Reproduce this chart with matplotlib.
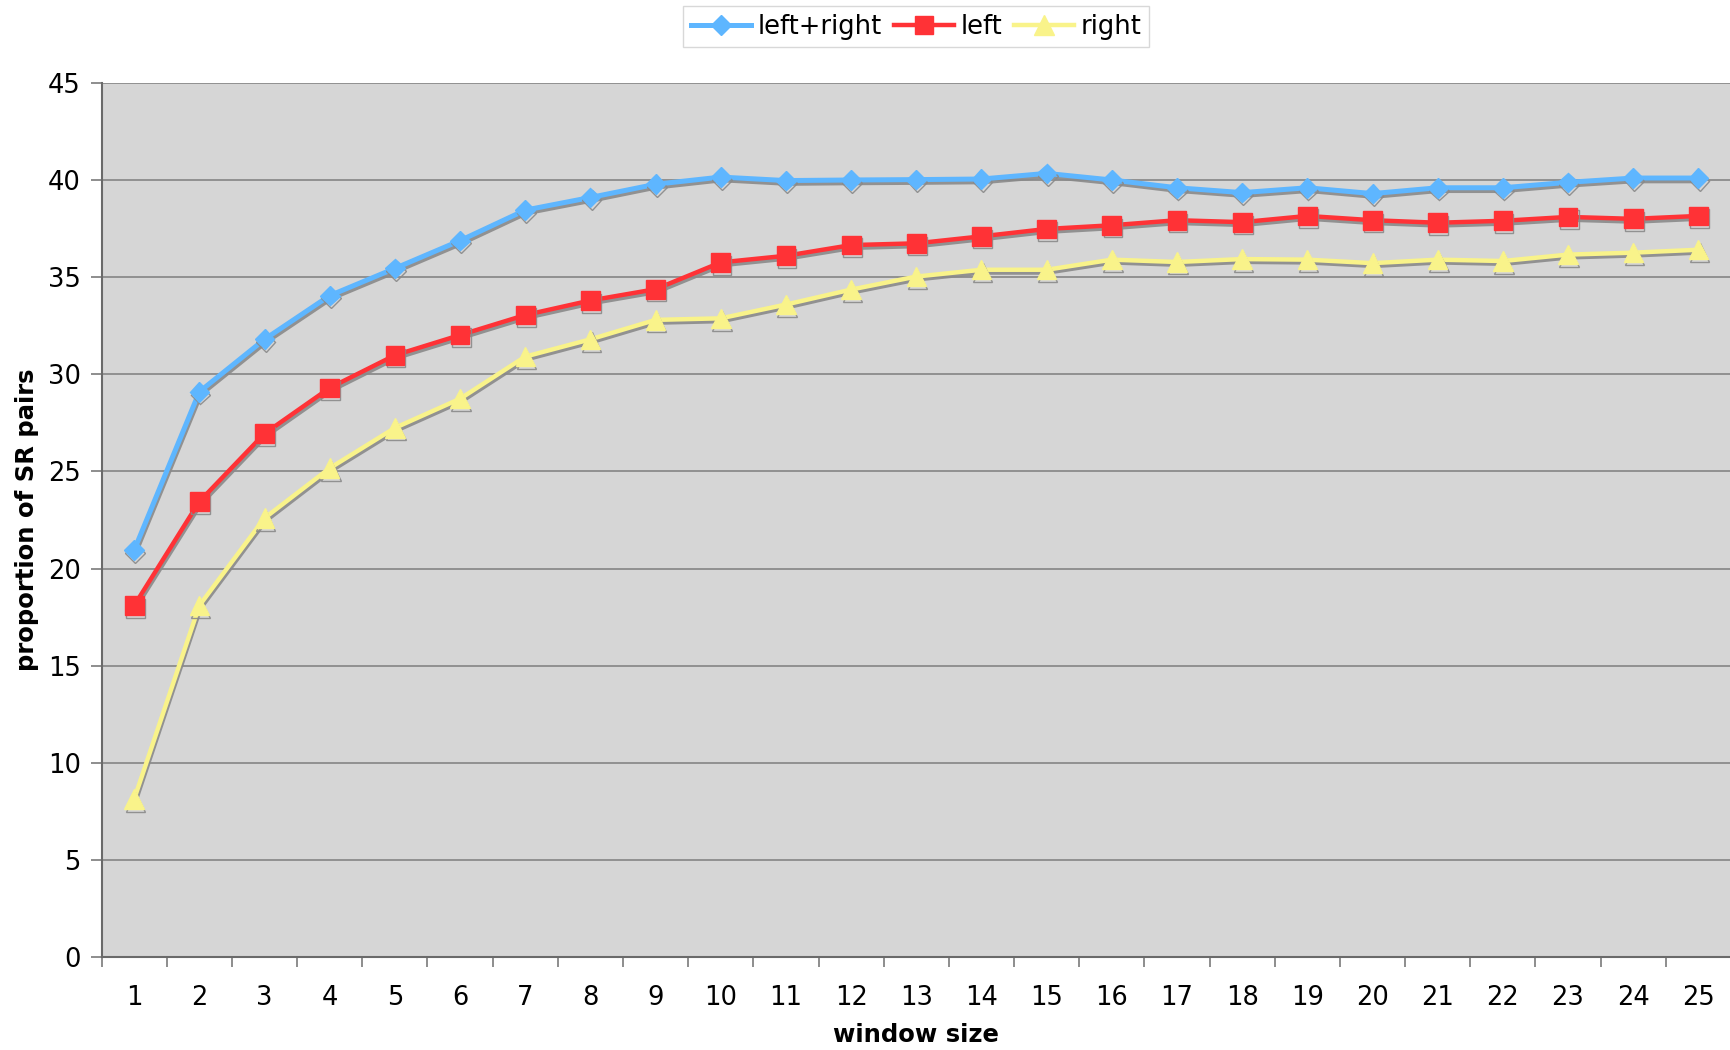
import matplotlib
matplotlib.use("Agg")
from matplotlib import pyplot as plt
from matplotlib import patheffects as pe

# window sizes and the three series
window = list(range(1, 26))
left_right = [20.95, 29.1, 31.8, 34.05, 35.45, 36.88, 38.45, 39.1, 39.78, 40.15,
              39.97, 40.0, 40.02, 40.05, 40.34, 40.0, 39.6, 39.35, 39.6, 39.3,
              39.6, 39.6, 39.88, 40.1, 40.1]
left = [18.1, 23.45, 26.95, 29.3, 30.98, 32.02, 33.05, 33.8, 34.38, 35.76,
        36.1, 36.65, 36.74, 37.1, 37.48, 37.67, 37.93, 37.83, 38.15, 37.93,
        37.8, 37.9, 38.1, 38.0, 38.15]
right = [8.14, 18.1, 22.6, 25.17, 27.24, 28.74, 30.91, 31.8, 32.8, 32.88,
         33.59, 34.36, 35.03, 35.38, 35.38, 35.9, 35.78, 35.93, 35.9, 35.72,
         35.9, 35.83, 36.16, 36.26, 36.41]
yticks = list(range(0, 46, 5))


def main():
    fig = plt.figure(figsize=(17.31, 10.5), dpi=100)
    ax = fig.add_axes([0.0587, 0.0884, 0.9413, 0.8327])
    ax.set_facecolor("#d6d6d6")

    l1, = ax.plot(window, left_right, color="#5eb6ff", lw=3.6, marker="D",
                  markersize=10, label="left+right", zorder=5)
    l2, = ax.plot(window, left, color="#ff3236", lw=3.2, marker="s",
                  markersize=13.5, label="left", zorder=4)
    l3, = ax.plot(window, right, color="#f9f38a", lw=3.2, marker="^",
                  markersize=14, label="right", zorder=3)

    leg = ax.legend(loc="upper center", bbox_to_anchor=(0.5, 1.088), ncol=3,
                    fontsize=18.5, frameon=True, fancybox=False,
                    borderaxespad=0, handlelength=2.35, columnspacing=0.45,
                    handletextpad=0.25, borderpad=0.3)
    leg.get_frame().set_edgecolor("#cfcfcf")
    leg.get_frame().set_linewidth(1.0)

    # drop shadow on the data lines (added after the legend so it stays plain)
    for ln in (l1, l2, l3):
        ln.set_path_effects([pe.SimpleLineShadow(offset=(0.8, -2.0),
                                                 shadow_color="#8a8a8a",
                                                 alpha=0.9),
                             pe.Normal()])

    ax.set_xlim(0.5, 25.5)
    ax.set_ylim(0, 45)
    ax.set_yticks(yticks)
    ax.set_xticks(window)
    ax.set_xticks([w + 0.5 for w in range(0, 25)], minor=True)
    ax.tick_params(axis="x", which="major", length=0, pad=20, labelsize=18.5)
    ax.tick_params(axis="x", which="minor", length=7, width=1.2,
                   color="#7a7a7a", direction="out")
    ax.tick_params(axis="y", length=8, width=1.2, color="#7a7a7a",
                   pad=7, labelsize=18.5)

    ax.grid(axis="y", color="#858585", lw=1.2)
    ax.set_axisbelow(True)
    for side in ("top", "right"):
        ax.spines[side].set_visible(False)
    for side in ("left", "bottom"):
        ax.spines[side].set_color("#6a6a6a")
        ax.spines[side].set_linewidth(1.5)

    ax.set_xlabel("window size", fontsize=17.5, fontweight="bold", labelpad=9)
    ax.set_ylabel("proportion of SR pairs", fontsize=17.5, fontweight="bold",
                  labelpad=6)

    fig.savefig("out.png", dpi=100)


if __name__ == "__main__":
    main()
